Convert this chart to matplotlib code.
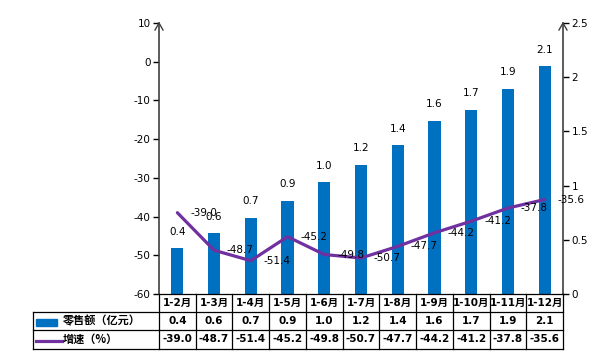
import matplotlib
matplotlib.use("Agg")
import matplotlib.pyplot as plt
from matplotlib.transforms import blended_transform_factory
from matplotlib.lines import Line2D
from matplotlib.patches import Rectangle

plt.rcParams['font.family'] = ['DejaVu Sans', 'Noto Sans CJK SC']

categories = ['1-2月', '1-3月', '1-4月', '1-5月', '1-6月', '1-7月', '1-8月', '1-9月', '1-10月', '1-11月', '1-12月']
sales_labels = ['0.4', '0.6', '0.7', '0.9', '1.0', '1.2', '1.4', '1.6', '1.7', '1.9', '2.1']
sales = [0.42, 0.56, 0.70, 0.86, 1.03, 1.19, 1.37, 1.60, 1.70, 1.89, 2.10]
growth = [-39.0, -48.7, -51.4, -45.2, -49.8, -50.7, -47.7, -44.2, -41.2, -37.8, -35.6]
row_labels = ['零售额（亿元）', '增速（%）']
left_ticks = [-60, -50, -40, -30, -20, -10, 0, 10]
right_ticks = [0, 0.5, 1, 1.5, 2, 2.5]
right_tick_labels = ['0', '0.5', '1', '1.5', '2', '2.5']

W, H = 598, 354
BAR = '#0070C0'
LINE = '#7030A0'
FS = 7.5

fig = plt.figure(figsize=(W / 100, H / 100), dpi=100)
L, R, T, B = 159, 563, 23, 294
axL = fig.add_axes([L / W, 1 - B / H, (R - L) / W, (B - T) / H])
axR = axL.twinx()

x = list(range(len(categories)))
axR.bar(x, sales, width=0.33, color=BAR, zorder=2)
axR.set_ylim(0, 2.5)
axL.set_ylim(-60, 10)
axL.set_xlim(-0.5, len(categories) - 0.5)

axL.set_zorder(axR.get_zorder() + 1)
axL.patch.set_visible(False)
axL.plot(x, growth, color=LINE, lw=2.3, solid_capstyle='round', zorder=3)

for xi, v, s in zip(x, sales, sales_labels):
    axR.annotate(s, (xi, v), xytext=(0, 12), textcoords='offset points',
                 ha='center', va='center', fontsize=FS, color='black')
for xi, g in zip(x, growth):
    axL.annotate(f'{g:.1f}', (xi, g), xytext=(19, 0), textcoords='offset points',
                 ha='center', va='center', fontsize=FS, color='black', zorder=4)

for ax in (axL, axR):
    for s in ('top', 'bottom'):
        ax.spines[s].set_visible(False)
    ax.set_xticks([])
axL.spines['right'].set_visible(False)
axR.spines['left'].set_visible(False)
axL.spines['left'].set_color('#404040')
axR.spines['right'].set_color('#404040')
axL.spines['left'].set_linewidth(1.2)
axR.spines['right'].set_linewidth(1.2)

axL.set_yticks(left_ticks)
axL.set_yticklabels([str(t) for t in left_ticks])
axR.set_yticks(right_ticks)
axR.set_yticklabels(right_tick_labels)
axL.tick_params(axis='y', direction='out', length=4, width=1, pad=2, labelsize=FS)
axR.tick_params(axis='y', direction='out', length=4, width=1, pad=2, labelsize=FS)

for xf in (L, R):
    xs = xf / W
    yt = 1 - T / H
    fig.add_artist(Line2D([xs - 4 / W, xs, xs + 4 / W], [yt - 7 / H, yt, yt - 7 / H],
                          color='#404040', lw=1.0, transform=fig.transFigure))

tb = blended_transform_factory(axL.transData, fig.transFigure)
def fy(y):
    return 1 - y / H

y_rows = [294, 312, 330, 349]
lc = 'black'
lw = 0.9
fig.add_artist(Line2D([L / W, R / W], [fy(294), fy(294)], color=lc, lw=lw, transform=fig.transFigure))
for yy in y_rows[1:]:
    fig.add_artist(Line2D([33 / W, R / W], [fy(yy), fy(yy)], color=lc, lw=lw, transform=fig.transFigure))
fig.add_artist(Line2D([33 / W, 33 / W], [fy(312), fy(349)], color=lc, lw=lw, transform=fig.transFigure))
for i in range(len(categories) + 1):
    xb = i - 0.5
    fig.add_artist(Line2D([xb, xb], [fy(294), fy(349)], color=lc, lw=lw, transform=tb))

for i, c in enumerate(categories):
    fig.text(i, fy(303), c, transform=tb, ha='center', va='center', fontsize=FS,
             fontweight='bold')
    fig.text(i, fy(321), sales_labels[i], transform=tb, ha='center', va='center', fontsize=FS,
             fontweight='bold')
    fig.text(i, fy(339.5), f'{growth[i]:.1f}', transform=tb, ha='center', va='center', fontsize=FS,
             fontweight='bold')

fig.add_artist(Rectangle((36 / W, fy(326)), 21 / W, 7 / H, color=BAR, transform=fig.transFigure))
fig.add_artist(Line2D([36 / W, 62 / W], [fy(340.5), fy(340.5)], color=LINE, lw=2.3,
                      transform=fig.transFigure))
fig.text(63 / W, fy(321), row_labels[0], ha='left', va='center', fontsize=FS + 0.5,
         fontweight='bold', family=['Noto Sans CJK SC', 'DejaVu Sans'])
fig.text(63 / W, fy(339.5), row_labels[1], ha='left', va='center', fontsize=FS + 0.5,
         fontweight='bold', family=['Noto Sans CJK SC', 'DejaVu Sans'])

fig.savefig('out.png', dpi=100)
